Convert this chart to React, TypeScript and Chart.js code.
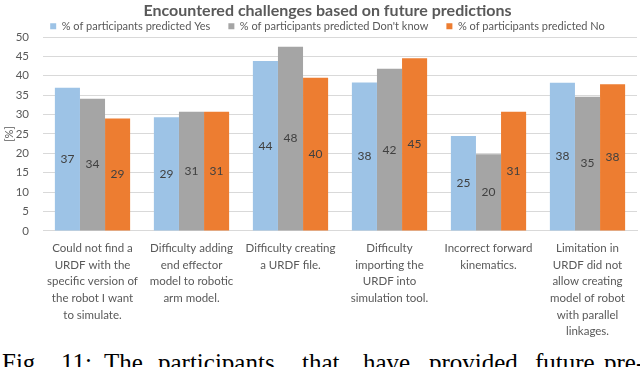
import React, { useEffect, useRef } from "react";
import { Chart, registerables } from "chart.js";

Chart.register(...registerables);

const chartTitle = "Encountered challenges based on future predictions";
const categories: string[][] = [
  ["Could not find a", "URDF with the", "specific version of", "the robot I want", "to simulate."],
  ["Difficulty adding", "end effector", "model to robotic", "arm model."],
  ["Difficulty creating", "a URDF file."],
  ["Difficulty", "importing the", "URDF into", "simulation tool."],
  ["Incorrect forward", "kinematics."],
  ["Limitation in", "URDF did not", "allow creating", "model of robot", "with parallel", "linkages."],
];
const seriesNames = [
  "% of participants predicted Yes",
  "% of participants predicted Don't know",
  "% of participants predicted No",
];
const yesValues = [36.9, 29.3, 43.8, 38.3, 24.5, 38.2];
const dontKnowValues = [34.1, 30.7, 47.5, 41.8, 19.8, 34.6];
const noValues = [29.0, 30.7, 39.5, 44.5, 30.7, 37.8];
const seriesColors = ["#9DC3E6", "#A5A5A5", "#ED7D31"];
const yMin = 0;
const yMax = 50;
const yStep = 5;
const yTitle = "[%]";
const captionWords = ["Fig.", "11:", "The", "participants", "that", "have", "provided", "future", "pre-"];
const captionWordX = [2, 61, 104, 158, 302, 363, 429, 535, 604];

const FONT = "Lato, 'Open Sans', sans-serif";

const valueLabelPlugin = {
  id: "valueLabels",
  afterDatasetsDraw(chart: any) {
    const ctx = chart.ctx;
    ctx.save();
    ctx.font = `12px ${FONT}`;
    ctx.fillStyle = "#404040";
    ctx.textAlign = "center";
    ctx.textBaseline = "middle";
    chart.data.datasets.forEach((ds: any, di: number) => {
      const meta = chart.getDatasetMeta(di);
      meta.data.forEach((bar: any, i: number) => {
        const v = ds.data[i];
        const y = (bar.y + bar.base) / 2;
        ctx.fillText(String(Math.round(v)), bar.x, y);
      });
    });
    ctx.restore();
  },
};

// Fine placement of the title and legend boxes
const LEGEND_DX = 9;
const LEGEND_DY = -17.5;
const headerPlacementPlugin = {
  id: "headerPlacement",
  afterInit(chart: any) {
    const legend = chart.legend;
    const title = chart.titleBlock;
    if (legend) {
      const origFit = legend.fit;
      legend.fit = function (...args: any[]) {
        origFit.apply(this, args);
        this.height = 16.8;
      };
      const origDraw = legend.draw;
      legend.draw = function (...args: any[]) {
        const t = this.top;
        const l = this.left;
        const r = this.right;
        this.top = t + LEGEND_DY;
        this.left = l + LEGEND_DX;
        this.right = r + LEGEND_DX;
        try {
          origDraw.apply(this, args);
        } finally {
          this.top = t;
          this.left = l;
          this.right = r;
        }
      };
    }
    if (title) {
      const origDraw = title.draw;
      title.draw = function (...args: any[]) {
        const ctx = chart.ctx;
        ctx.save();
        ctx.translate(LEGEND_DX, 0);
        origDraw.apply(this, args);
        ctx.restore();
      };
    }
  },
};

export default function App() {
  const canvasRef = useRef<HTMLCanvasElement | null>(null);

  useEffect(() => {
    if (!canvasRef.current) return;
    const values = [yesValues, dontKnowValues, noValues];
    const chart = new Chart(canvasRef.current, {
      type: "bar",
      data: {
        labels: categories,
        datasets: seriesNames.map((name, i) => ({
          label: name,
          data: values[i],
          backgroundColor: seriesColors[i],
          borderWidth: 0,
          categoryPercentage: 0.76,
          barPercentage: 1,
        })),
      },
      options: {
        responsive: false,
        animation: false,
        layout: { padding: { left: 0, right: 3, top: 0, bottom: 0 } },
        plugins: {
          title: {
            display: true,
            text: chartTitle,
            color: "#595959",
            font: { family: FONT, size: 16, weight: "bold" },
            padding: { top: 1, bottom: 0 },
          },
          legend: {
            display: true,
            position: "top",
            labels: {
              color: "#595959",
              font: { family: FONT, size: 11 },
              boxWidth: 6,
              boxHeight: 6,
              padding: 18,
            },
          },
          tooltip: { enabled: false },
        },
        scales: {
          x: {
            grid: { display: false, drawTicks: false },
            border: { display: true, color: "#D9D9D9" },
            ticks: {
              color: "#595959",
              font: { family: FONT, size: 11.5, lineHeight: 1.45 },
              maxRotation: 0,
              minRotation: 0,
              autoSkip: false,
              padding: 9,
            },
          },
          y: {
            min: yMin,
            max: yMax,
            afterFit: (axis: any) => {
              axis.width = 43;
            },
            grid: { color: "#D9D9D9", drawTicks: false },
            border: { display: false },
            ticks: {
              stepSize: yStep,
              color: "#595959",
              font: { family: FONT, size: 11.5 },
              padding: 14,
            },
            title: {
              display: true,
              text: yTitle,
              color: "#595959",
              font: { family: FONT, size: 11 },
              padding: { top: 3, bottom: 0 },
            },
          },
        },
      },
      plugins: [valueLabelPlugin, headerPlacementPlugin],
    });
    return () => chart.destroy();
  }, []);

  return (
    <div
      style={{
        position: "absolute",
        left: 0,
        top: 0,
        width: 640,
        height: 367,
        overflow: "hidden",
        background: "#ffffff",
      }}
    >
      <canvas ref={canvasRef} width={640} height={349} style={{ display: "block" }} />
      {captionWords.map((w, i) => (
        <span
          key={i}
          style={{
            position: "absolute",
            left: captionWordX[i],
            top: 350,
            fontFamily: "'Liberation Serif', 'Times New Roman', serif",
            fontSize: 25,
            lineHeight: "25px",
            color: "#000",
            whiteSpace: "nowrap",
          }}
        >
          {w}
        </span>
      ))}
    </div>
  );
}
